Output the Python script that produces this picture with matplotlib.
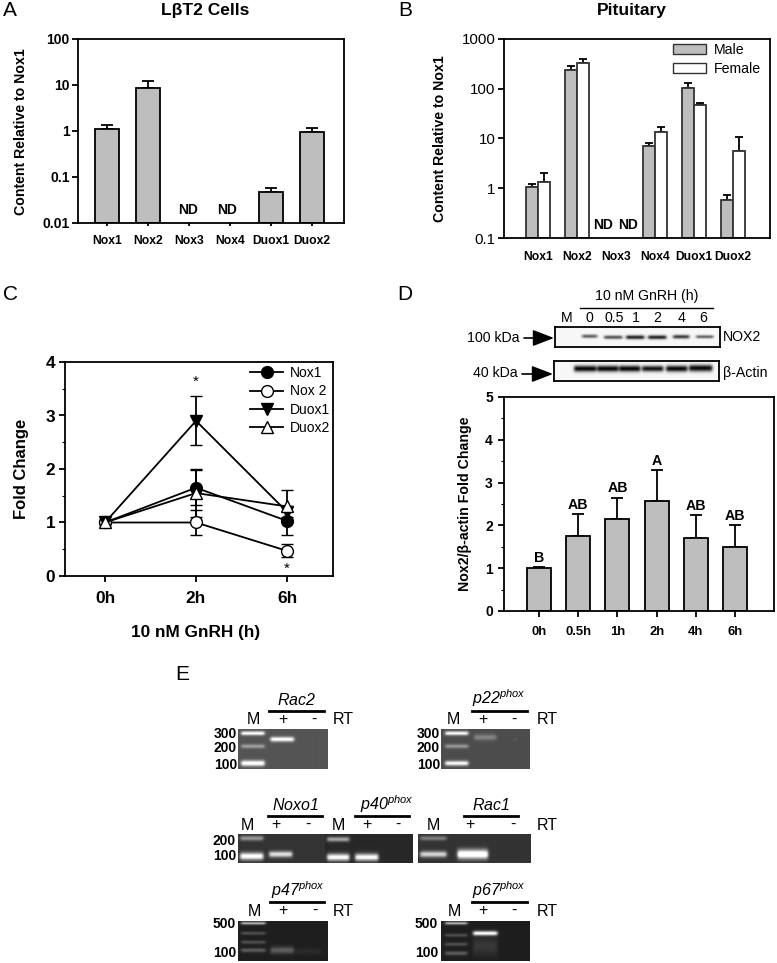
import numpy as np
import matplotlib
matplotlib.use("Agg")
import matplotlib.pyplot as plt
from matplotlib.lines import Line2D
from matplotlib.patches import Patch
from matplotlib.ticker import MultipleLocator, NullLocator

W, H = 777, 963
plt.rcParams['font.family'] = ['Liberation Sans', 'DejaVu Sans']
plt.rcParams['mathtext.fontset'] = 'custom'
plt.rcParams['mathtext.it'] = 'Liberation Sans:italic'
plt.rcParams['mathtext.rm'] = 'Liberation Sans:italic'  # digits in gene names are italic too
plt.rcParams['axes.linewidth'] = 1.3

GREY = '#bebebe'
LW = 1.3

# panel A
genes = ['Nox1', 'Nox2', 'Nox3', 'Nox4', 'Duox1', 'Duox2']
a_vals = [1.08, 8.5, np.nan, np.nan, 0.047, 0.95]
a_top = [1.35, 12.3, np.nan, np.nan, 0.059, 1.15]

# panel B
b_male = [1.05, 240, np.nan, 7, 102, 0.58]
b_male_top = [1.22, 285, np.nan, 8, 130, 0.72]
b_female = [1.35, 330, np.nan, 13.5, 47, 5.6]
b_female_top = [2.05, 400, np.nan, 17, 52, 10.8]

# panel C
c_times = ['0h', '2h', '6h']
nox1 = [1, 1.65, 1.03]
nox1_err = [np.nan, 0.33, 0.26]
nox2 = [1, 1.0, 0.47]
nox2_err = [np.nan, 0.24, 0.12]
duox1 = [1, 2.9, 1.2]
duox1_err = [np.nan, 0.46, 0.1]
duox2 = [1, 1.55, 1.3]
duox2_err = [np.nan, 0.45, 0.3]

# panel D
d_times = ['0h', '0.5h', '1h', '2h', '4h', '6h']
d_vals = [1.0, 1.75, 2.14, 2.56, 1.70, 1.50]
d_top = [1.03, 2.27, 2.65, 3.3, 2.24, 2.01]
d_letters = ['B', 'AB', 'AB', 'A', 'AB', 'AB']

# blots and gels: bands are (x0, x1, y, strength, thickness), in page pixels
nox2_bands = [(582, 597, 336, .6, 1.8), (604, 622, 337, .65, 1.8), (626, 644, 337, .85, 2),
              (648, 666, 337, .85, 2), (673, 689, 336.5, .75, 1.9), (696, 713, 336.5, .6, 1.6)]
actin_bands = [(574, 596, 369, .95, 3), (597, 618, 369, .95, 3), (619, 640, 369, .95, 3),
               (642, 663, 369, .9, 2.8), (666, 687, 369, .95, 3), (689, 712, 368.5, .95, 3.2)]
rac2_bands = [(241, 264, 733, .7, 2), (241, 264, 746, .3, 2), (241, 264, 763, .75, 2.8),
              (270, 293, 739, .7, 2.4)]
p22_bands = [(445, 468, 733, .7, 2), (445, 468, 746, .3, 2), (445, 468, 763, .7, 2.4),
             (474, 496, 737, .22, 3), (514, 516, 739, .15, 1)]
noxo1_bands = [(240, 263, 838, .4, 2.4), (240, 263, 856, .85, 3.6), (269, 292, 854, .7, 3)]
p40_bands = [(327, 349, 839, .5, 2.4), (327, 349, 857, .85, 3.6), (355, 378, 857, .85, 3.6)]
rac1_bands = [(420, 446, 838, .3, 2.2), (420, 446, 854, .65, 3), (457, 487, 854, .95, 4.6)]
p47_bands = [(241, 265, 923, .6, 1.4), (241, 265, 933, .2, 1.6), (241, 265, 942, .2, 1.7),
             (241, 265, 950, .25, 2), (270, 293, 950, .25, 3.5), (295, 320, 951, .05, 3)]
p67_bands = [(445, 467, 923, .6, 1.4), (445, 467, 935, .2, 1.6), (445, 467, 944, .2, 1.7),
             (445, 467, 953, .25, 2), (473, 497, 933, .9, 2.2), (473, 497, 946, .1, 9)]


def box(left, top, right, bottom):
    return fig.add_axes([left / W, 1 - bottom / H, (right - left) / W, (bottom - top) / H])


def T(x, y, s, **kw):
    kw.setdefault('ha', 'center')
    kw.setdefault('va', 'center')
    return fig.text(x / W, 1 - y / H, s, **kw)


def gel(left, top, right, bottom, bands, bg, sign=1, border=False):
    ax = box(left, top, right, bottom)
    xs = np.arange(left, right, 0.5)
    ys = np.arange(top, bottom, 0.5)
    X, Y = np.meshgrid(xs, ys)
    img = np.full(X.shape, float(bg))
    for x0, x1, y, s, t in bands:
        edge = 0.5 * (np.tanh((X - x0) / 1.6) - np.tanh((X - x1) / 1.6))
        img += sign * s * edge * np.exp(-((Y - y) / t) ** 2)
    ax.imshow(np.clip(img, 0, 1), cmap='gray', vmin=0, vmax=1, aspect='auto',
              extent=[left, right, bottom, top], interpolation='bilinear')
    ax.set_xticks([])
    ax.set_yticks([])
    for s in ax.spines.values():
        s.set_visible(border)
    return ax


def up_err(ax, x, vals, tops, cap=4.2):
    lo = [0 for v in vals]
    hi = [t - v for v, t in zip(vals, tops)]
    ax.errorbar(x, vals, yerr=[lo, hi], fmt='none', ecolor='black', elinewidth=LW,
                capsize=cap, capthick=LW, zorder=1)


fig = plt.figure(figsize=(W / 100, H / 100), dpi=100)
fig.patch.set_facecolor('white')

for x, y, s in [(10, 11, 'A'), (405, 11, 'B'), (10, 294, 'C'), (405, 294, 'D'), (182, 675, 'E')]:
    T(x, y, s, fontsize=15)

# A
ax = box(78, 39, 344, 223)
xa = np.arange(6)
ax.set_yscale('log')
ax.bar(xa, np.array(a_vals) - 0.01, bottom=0.01, width=0.6, color=GREY, edgecolor='black', linewidth=LW, zorder=2)
up_err(ax, xa, a_vals, a_top)
ax.set_xlim(-0.707, 5.78)
ax.set_ylim(0.01, 100)
ax.set_yticks([0.01, 0.1, 1, 10, 100])
ax.set_yticklabels(['0.01', '0.1', '1', '10', '100'], fontsize=10, fontweight='bold')
ax.yaxis.set_minor_locator(NullLocator())
ax.set_xticks(xa)
ax.set_xticklabels(genes, fontsize=8.7, fontweight='bold')
ax.tick_params(axis='y', length=4, width=LW, pad=2)
ax.tick_params(axis='x', length=2.5, width=LW, pad=6)
ax.set_ylabel('Content Relative to Nox1', fontsize=10.2, fontweight='bold')
ax.yaxis.set_label_coords((28 - 78) / 266, (223 - 132) / 184)
ax.text(1.98, 0.0195, 'ND', fontsize=10, fontweight='bold', ha='center', va='center')
ax.text(2.92, 0.0195, 'ND', fontsize=10, fontweight='bold', ha='center', va='center')
T(205, 11, 'L\u03b2T2 Cells', fontsize=12.5, fontweight='bold')

# B
ax = box(504, 39, 770, 238)
xb = np.arange(6)
ax.set_yscale('log')
ax.bar(xb - 0.15, np.array(b_male) - 0.1, bottom=0.1, width=0.3, color=GREY, edgecolor='#333333', linewidth=LW, zorder=2)
ax.bar(xb + 0.15, np.array(b_female) - 0.1, bottom=0.1, width=0.3, color='white', edgecolor='#333333', linewidth=LW, zorder=2)
up_err(ax, xb - 0.15, b_male, b_male_top, cap=3)
up_err(ax, xb + 0.15, b_female, b_female_top, cap=3)
ax.set_xlim(-34 / 39, 232 / 39)
ax.set_ylim(0.1, 1000)
ax.set_yticks([0.1, 1, 10, 100, 1000])
ax.set_yticklabels(['0.1', '1', '10', '100', '1000'], fontsize=10.8)
ax.yaxis.set_minor_locator(NullLocator())
ax.set_xticks(xb)
ax.set_xticklabels(genes, fontsize=8.7, fontweight='bold')
ax.tick_params(axis='y', length=4, width=LW, pad=2)
ax.tick_params(axis='x', length=0, pad=9)
ax.set_ylabel('Content Relative to Nox1', fontsize=10.2, fontweight='bold')
ax.yaxis.set_label_coords((447 - 504) / 266, (238 - 139) / 199)
ax.text(1.67, 0.18, 'ND', fontsize=10, fontweight='bold', ha='center', va='center')
ax.text(2.31, 0.18, 'ND', fontsize=10, fontweight='bold', ha='center', va='center')
ax.legend(handles=[Patch(facecolor=GREY, edgecolor='#333333', label='Male'),
                   Patch(facecolor='white', edgecolor='#333333', label='Female')],
          loc='upper left', bbox_to_anchor=((673 - 504) / 266, (238 - 43) / 199), frameon=False,
          fontsize=10.2, borderpad=0, borderaxespad=0, handlelength=2.3, handleheight=0.8,
          handletextpad=0.6, labelspacing=0.35)
T(632, 11, 'Pituitary', fontsize=12.5, fontweight='bold')

# C
ax = box(65, 362, 333, 576)
xc = np.arange(3)
series = [('Nox1', nox1, nox1_err, 'o', 'black'), ('Nox 2', nox2, nox2_err, 'o', 'white'),
          ('Duox1', duox1, duox1_err, 'v', 'black'), ('Duox2', duox2, duox2_err, '^', 'white')]
handles = []
for name, vals, errs, m, fc in series:
    ax.errorbar(xc, vals, yerr=errs, color='black', linewidth=LW, elinewidth=LW, capsize=4.5,
                capthick=LW, marker=m, markersize=8.5, markerfacecolor=fc, markeredgecolor='black',
                markeredgewidth=1)
    handles.append(Line2D([], [], color='black', linewidth=LW, marker=m, markersize=8.5,
                          markerfacecolor=fc, markeredgecolor='black', markeredgewidth=1, label=name))
ax.set_xlim(-40 / 91, 228 / 91)
ax.set_ylim(0, 4)
ax.set_xticks(xc)
ax.set_xticklabels(c_times, fontsize=12.4, fontweight='bold')
ax.set_yticks([0, 1, 2, 3, 4])
ax.set_yticklabels(['0', '1', '2', '3', '4'], fontsize=12.4, fontweight='bold')
ax.yaxis.set_minor_locator(MultipleLocator(0.5))
ax.tick_params(axis='both', which='major', length=4, width=LW)
ax.tick_params(axis='y', which='minor', length=2, width=0.8)
ax.tick_params(axis='x', pad=7)
ax.tick_params(axis='y', pad=3)
ax.set_ylabel('Fold Change', fontsize=12, fontweight='bold')
ax.yaxis.set_label_coords((29 - 65) / 268, (576 - 469) / 214)
ax.set_xlabel('10 nM GnRH (h)', fontsize=12.4, fontweight='bold')
ax.xaxis.set_label_coords(0.488, (576 - 625) / 214)
ax.legend(handles=handles, loc='upper left', bbox_to_anchor=((250 - 65) / 268, (576 - 366) / 214),
          frameon=False, fontsize=10, borderpad=0, borderaxespad=0, handlelength=2.4,
          handletextpad=0.5, labelspacing=0.32)
ax.text(1, 3.63, '*', fontsize=11, ha='center', va='center')
ax.text(2, 0.13, '*', fontsize=11, ha='center', va='center')

# D
ax = box(504, 397, 774, 611)
xd = np.arange(6)
ax.bar(xd, d_vals, width=0.61, color=GREY, edgecolor='black', linewidth=LW, zorder=2)
up_err(ax, xd, d_vals, d_top, cap=4.5)
for x, t, s in zip(xd, d_top, d_letters):
    ax.text(x, t + 0.05, s, fontsize=10.2, fontweight='bold', ha='center', va='bottom')
ax.set_xlim(-35 / 39.2, 235 / 39.2)
ax.set_ylim(0, 5)
ax.set_xticks(xd)
ax.set_xticklabels(d_times, fontsize=9.4, fontweight='bold')
ax.set_yticks([0, 1, 2, 3, 4, 5])
ax.set_yticklabels(['0', '1', '2', '3', '4', '5'], fontsize=10, fontweight='bold')
ax.yaxis.set_minor_locator(MultipleLocator(0.5))
ax.tick_params(axis='both', which='major', length=4, width=LW)
ax.tick_params(axis='y', which='minor', length=2, width=0.8)
ax.tick_params(axis='x', pad=7)
ax.tick_params(axis='y', pad=4)
ax.set_ylabel('Nox2/\u03b2-actin Fold Change', fontsize=10.2, fontweight='bold')
ax.yaxis.set_label_coords((472 - 504) / 270, (611 - 504) / 214)

# D blots
gel(555, 327, 720, 347, nox2_bands, 0.97, -1, True)
gel(554, 361, 719, 381, actin_bands, 0.97, -1, True)
overlay = fig.add_axes([0, 0, 1, 1], zorder=5)
overlay.set_xlim(0, W)
overlay.set_ylim(H, 0)
overlay.axis('off')
overlay.patch.set_alpha(0)
T(647, 296, '10 nM GnRH (h)', fontsize=10.2)
overlay.plot([580, 713], [308, 308], color='black', lw=1)
for x, s in zip([567, 589, 614, 636, 657, 682, 703], ['M', '0', '0.5', '1', '2', '4', '6']):
    T(x, 318, s, fontsize=10.2)
T(493, 338, '100 kDa', fontsize=10.2)
T(495, 373, '40 kDa', fontsize=10.2)
T(723, 337, 'NOX2', fontsize=10.2, ha='left')
T(723, 373, '\u03b2-Actin', fontsize=10.2, ha='left')
for x0, x1, y in [(524, 554, 338), (522, 553, 374)]:
    overlay.annotate('', xy=(x1, y), xytext=(x0, y),
                     arrowprops=dict(arrowstyle='-|>,head_length=1.3,head_width=0.5', color='black', lw=1.2,
                                     shrinkA=0, shrinkB=0))

# E gels
gel(238, 729, 327, 769, rac2_bands, 0.33)
gel(441, 729, 530, 769, p22_bands, 0.3)
gel(238, 834, 325, 863, noxo1_bands, 0.2)
gel(325, 834, 413, 863, p40_bands, 0.16)
gel(418, 834, 530, 863, rac1_bands, 0.2)
gel(238, 921, 327, 961, p47_bands, 0.12)
gel(441, 921, 530, 961, p67_bands, 0.12)

GF = 11.5
# name, label x, label y, line x0, x1, line y, M x, + x, - x, RT x, row y
heads = [(r'$\mathit{Rac2}$', 297, 700, 269, 324, 711, 253, 283, 314, 343, 720),
         (r'$\mathit{p22}^{\mathit{phox}}$', 499, 698, 472, 527, 711, 453, 483, 514, 547, 720),
         (r'$\mathit{Noxo1}$', 295, 805, 268, 322, 816, 247, 276, 308, None, 825),
         (r'$\mathit{p40}^{\mathit{phox}}$', 387, 804, 355, 409, 816, 338, 367, 398, None, 825),
         (r'$\mathit{Rac1}$', 491, 805, 464, 518, 816, 433, 470, 513, 547, 825),
         (r'$\mathit{p47}^{\mathit{phox}}$', 298, 890, 270, 324, 902, 254, 283, 315, 343, 911),
         (r'$\mathit{p67}^{\mathit{phox}}$', 499, 890, 472, 527, 902, 454, 483, 514, 547, 911)]
for name, lx, ly, x0, x1, ln, mx, px, nx, rt, ry in heads:
    T(lx, ly, name, fontsize=GF)
    overlay.plot([x0, x1], [ln, ln], color='black', lw=2)
    T(mx, ry, 'M', fontsize=GF)
    T(px, ry - 1, '+', fontsize=GF)
    T(nx, ry - 1, '-', fontsize=GF)
    if rt:
        T(rt, ry, 'RT', fontsize=GF)

sizes = [(237, 734, '300'), (237, 748, '200'), (237, 765, '100'),
         (440, 734, '300'), (440, 748, '200'), (440, 765, '100'),
         (236, 841, '200'), (236, 856, '100'),
         (236, 924, '500'), (236, 953, '100'),
         (438, 924, '500'), (438, 953, '100')]
for x, y, s in sizes:
    T(x, y, s, fontsize=10, fontweight='bold', ha='right')

fig.savefig('out.png', dpi=100)
